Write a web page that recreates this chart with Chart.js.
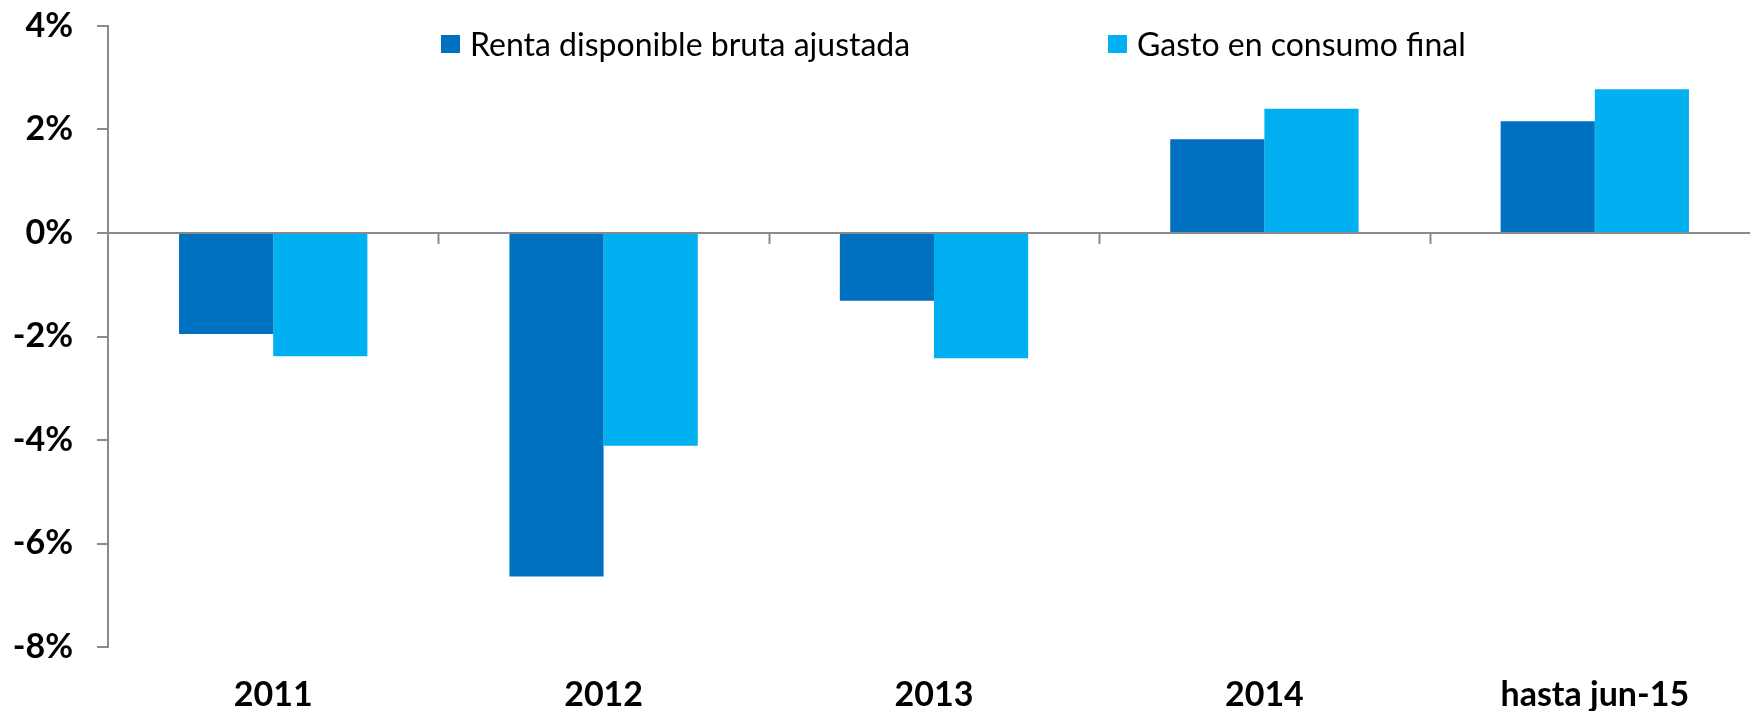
<!DOCTYPE html>
<html lang="es">
<head>
    <meta charset="UTF-8">
    <title>Renta disponible y gasto en consumo</title>
    <script src="https://cdn.jsdelivr.net/npm/chart.js"></script>
    <style>
        body {
            margin: 0;
            overflow: hidden;
            background: #fff;
            font-family: Lato, sans-serif;
        }
        .wrap {
            position: relative;
            width: 1760px;
            height: 711px;
        }
        .legend-item {
            position: absolute;
            top: 24px;
            display: flex;
            align-items: center;
            font-size: 32px;
            color: #000;
            white-space: nowrap;
        }
        .legend-item span.box {
            display: inline-block;
            width: 19px;
            height: 18px;
            margin-right: 10px;
        }
    </style>
</head>
<body>
    <div class="wrap">
        <canvas id="chart"></canvas>
        <div id="legend"></div>
    </div>

    <script>
        const categories = ['2011', '2012', '2013', '2014', 'hasta jun-15'];
        const seriesNames = ['Renta disponible bruta ajustada', 'Gasto en consumo final'];
        const renta = [-1.95, -6.64, -1.31, 1.81, 2.16];
        const gasto = [-2.38, -4.11, -2.42, 2.40, 2.78];
        const colors = ['#0070C0', '#00B0F0'];
        const yTicks = [-8, -6, -4, -2, 0, 2, 4];

        // zero line and the little category ticks hanging below it
        const zeroAxis = {
            id: 'zeroAxis',
            afterDatasetsDraw(chart) {
                const { ctx, chartArea, scales } = chart;
                const y0 = scales.y.getPixelForValue(0);
                const n = categories.length;
                const step = (chartArea.right - chartArea.left) / n;
                ctx.save();
                ctx.strokeStyle = '#8a8a8a';
                ctx.lineWidth = 2;
                ctx.beginPath();
                ctx.moveTo(chartArea.left, y0);
                ctx.lineTo(chartArea.right, y0);
                for (let i = 1; i <= n; i++) {
                    const x = Math.round(chartArea.left + i * step) + 0.5;
                    ctx.moveTo(x, y0);
                    ctx.lineTo(x, y0 + 11);
                }
                ctx.stroke();
                ctx.restore();
            }
        };

        const chart = new Chart(document.getElementById('chart').getContext('2d'), {
            type: 'bar',
            data: {
                labels: categories,
                datasets: [
                    { label: seriesNames[0], data: renta, backgroundColor: colors[0], borderWidth: 0 },
                    { label: seriesNames[1], data: gasto, backgroundColor: colors[1], borderWidth: 0 }
                ]
            },
            options: {
                responsive: true,
                maintainAspectRatio: false,
                animation: false,
                layout: { padding: { top: 26, right: 0, left: 0, bottom: 0 } },
                datasets: { bar: { categoryPercentage: 0.57, barPercentage: 1.0 } },
                plugins: { legend: { display: false }, tooltip: { enabled: false } },
                scales: {
                    x: {
                        grid: { display: false, drawTicks: false },
                        border: { display: false },
                        ticks: {
                            color: '#000',
                            padding: 28,
                            font: { family: 'Lato', size: 34, weight: 'bold' }
                        },
                        afterFit(s) { s.height = 64; }
                    },
                    y: {
                        min: yTicks[0],
                        max: yTicks[yTicks.length - 1],
                        afterBuildTicks(s) { s.ticks = yTicks.map(v => ({ value: v })); },
                        ticks: {
                            color: '#000',
                            padding: 24,
                            font: { family: 'Lato', size: 34, weight: 'bold' },
                            callback: v => v + '%'
                        },
                        grid: { drawOnChartArea: false, tickLength: 11, color: '#8a8a8a', lineWidth: 2 },
                        border: { color: '#8a8a8a', width: 2 },
                        afterFit(s) {
                            s.width = 108;
                            s.paddingTop = 0;
                            s.paddingBottom = 0;
                        }
                    }
                }
            },
            plugins: [zeroAxis]
        });

        // legend as html, sitting inside the plot like the original
        const legendLeft = [441, 1108];
        const legend = document.getElementById('legend');
        seriesNames.forEach((name, i) => {
            const item = document.createElement('div');
            item.className = 'legend-item';
            item.style.left = legendLeft[i] + 'px';
            item.innerHTML = '<span class="box" style="background:' + colors[i] + '"></span>' + name;
            legend.appendChild(item);
        });
    </script>
</body>
</html>
